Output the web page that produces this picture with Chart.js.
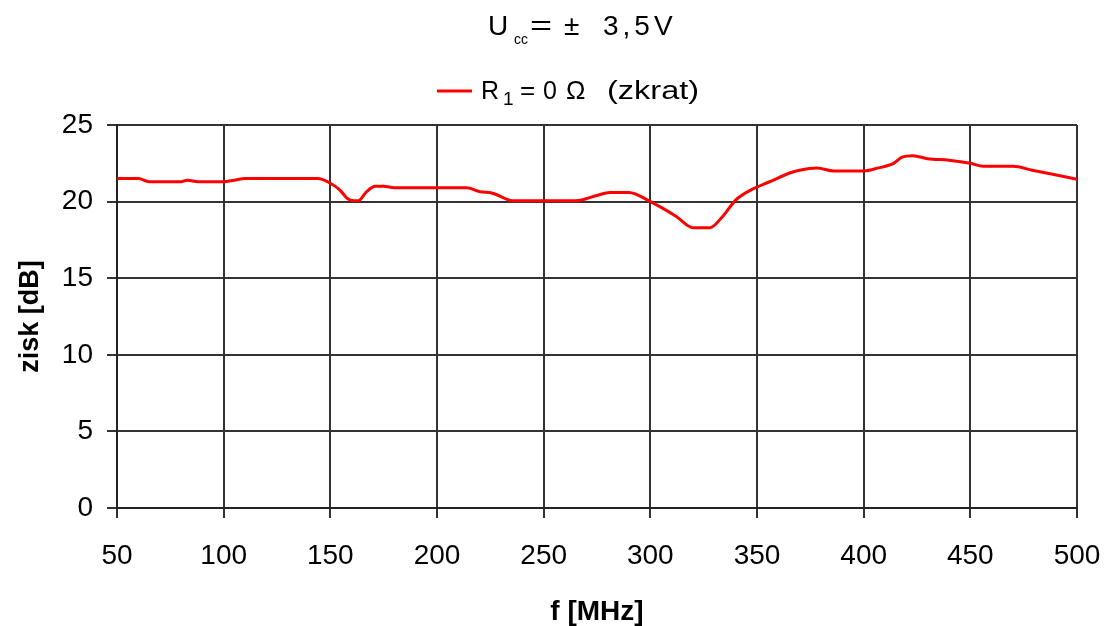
<!DOCTYPE html>
<html>
<head>
<meta charset="utf-8">
<title>zisk</title>
<script src="https://cdn.jsdelivr.net/npm/chart.js@4/dist/chart.umd.min.js"></script>
<style>
  body { margin: 0; background: #fff; }
  #wrap { width: 1108px; height: 626px; position: relative; }
</style>
</head>
<body>
<div id="wrap"><canvas id="gain"></canvas></div>
<script>
// frekvence [MHz] a zisk [dB]
var freq = [50, 60, 65, 80, 83, 88, 100, 105, 110, 144, 150, 154.5, 158, 161, 163, 167, 171, 175, 180, 200,
            214, 220, 226, 236, 250, 265, 275, 281, 290, 300, 312, 320, 328, 334, 340, 347, 356, 365, 370, 378,
            386, 400, 407, 414, 418, 423, 430, 440, 450, 456, 470, 479, 488, 500];
var gain = [21.5, 21.5, 21.3, 21.3, 21.4, 21.3, 21.3, 21.4, 21.5, 21.5, 21.2, 20.75, 20.2, 20.05, 20.05, 20.65, 21.0, 21.0, 20.9, 20.9,
            20.9, 20.65, 20.55, 20.05, 20.05, 20.05, 20.4, 20.6, 20.6, 20.0, 19.05, 18.3, 18.3, 19.05, 20.1, 20.75, 21.3, 21.85, 22.05, 22.2,
            22.0, 22.0, 22.2, 22.5, 22.9, 23.0, 22.8, 22.7, 22.5, 22.3, 22.3, 22.05, 21.8, 21.45];
var xTicks = [50, 100, 150, 200, 250, 300, 350, 400, 450, 500];
var yTicks = [0, 5, 10, 15, 20, 25];
var seriesName = 'R\u2081 = 0\u03A9  (zkrat)';

var pts = [];
for (var i = 0; i < freq.length; i++) {
    pts.push({x: freq[i], y: gain[i]});
}

var FONT = 'Arial, "Liberation Sans", sans-serif';

// kusy textu: [text, velikost, x, y, roztec, roztazeni]
function drawPieces(ctx, pieces) {
    pieces.forEach(function(p) {
        ctx.save();
        ctx.font = p[1] + 'px ' + FONT;
        ctx.letterSpacing = (p[4] || 0) + 'px';
        ctx.translate(p[2], p[3]);
        ctx.scale(p[5] || 1, 1);
        ctx.fillText(p[0], 0, 0);
        ctx.letterSpacing = '0px';
        ctx.restore();
    });
}

// nadpis (U s indexem cc) a legenda kreslene rucne
var headPlugin = {
    id: 'head',
    afterDraw: function(chart) {
        var ctx = chart.ctx;
        var ds = chart.data.datasets[0];
        ctx.save();
        ctx.fillStyle = '#000';
        ctx.textBaseline = 'alphabetic';
        drawPieces(ctx, [
            ['U', 28, 488, 35],
            ['cc', 14, 514, 44],
            ['=', 28, 530, 35, 0, 1.35],
            ['\u00B1', 28, 564, 35],
            ['3,5V', 28, 603, 35, 4]
        ]);

        // legenda
        ctx.strokeStyle = ds.borderColor;
        ctx.lineWidth = 3;
        ctx.beginPath();
        ctx.moveTo(437, 91);
        ctx.lineTo(472, 91);
        ctx.stroke();
        drawPieces(ctx, [
            ['R', 25, 481, 99],
            ['1', 19, 503, 105],
            ['=', 26, 520, 99],
            ['0', 25, 543, 99],
            ['\u03A9', 26, 566, 99],
            ['(zkrat)', 25, 607, 99, 0, 1.3]
        ]);
        ctx.restore();
    }
};

var ctx = document.getElementById('gain').getContext('2d');
var chart = new Chart(ctx, {
    type: 'line',
    data: {
        datasets: [{
            label: seriesName,
            data: pts,
            borderColor: '#ff0000',
            backgroundColor: '#ff0000',
            borderWidth: 3,
            pointRadius: 0,
            cubicInterpolationMode: 'monotone',
            fill: false
        }]
    },
    options: {
        responsive: true,
        maintainAspectRatio: false,
        animation: false,
        layout: { padding: { top: 125, right: 31, left: 0, bottom: 0 } },
        plugins: {
            title: { display: false },
            tooltip: { enabled: false },
            legend: { display: false }
        },
        scales: {
            x: {
                type: 'linear',
                min: 50,
                max: 500,
                afterBuildTicks: function(s) { s.ticks = xTicks.map(function(v) { return {value: v}; }); },
                afterFit: function(s) { s.height = 118; s.paddingLeft = 0; s.paddingRight = 0; },
                ticks: { color: '#000', font: { family: FONT, size: 28 }, padding: 21, maxRotation: 0 },
                grid: { color: '#333', lineWidth: 2, tickLength: 10 },
                border: { color: '#222', width: 2 },
                title: { display: true, text: 'f [MHz]', color: '#000', font: { family: FONT, size: 28, weight: 'bold', lineHeight: 1.0 }, padding: 0 }
            },
            y: {
                min: 0,
                max: 25,
                afterBuildTicks: function(s) { s.ticks = yTicks.map(function(v) { return {value: v}; }); },
                afterFit: function(s) { s.width = 117; },
                ticks: { color: '#000', font: { family: FONT, size: 28 }, padding: 14 },
                grid: { color: '#333', lineWidth: 2, tickLength: 10 },
                border: { color: '#222', width: 2 },
                title: { display: true, text: 'zisk [dB]', color: '#000', font: { family: FONT, size: 27, weight: 'bold' }, padding: { top: 14, bottom: 0 } }
            }
        }
    },
    plugins: [headPlugin]
});
</script>
</body>
</html>
